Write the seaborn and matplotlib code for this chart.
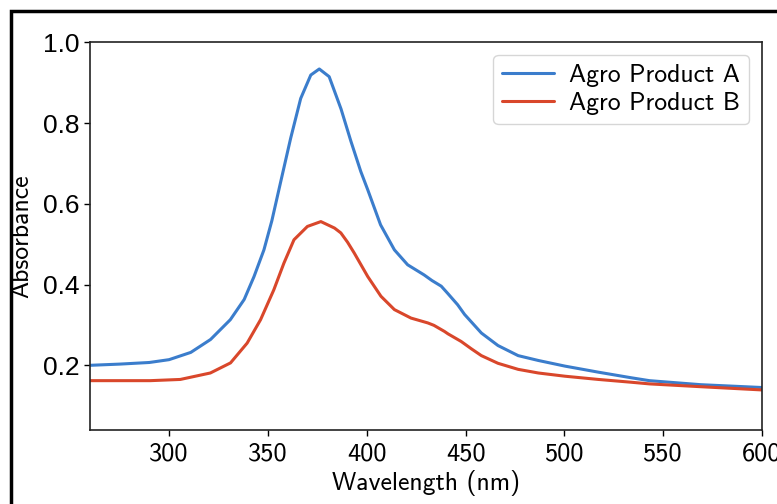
import numpy as np
import pandas as pd
import matplotlib
matplotlib.use("Agg")
import matplotlib.pyplot as plt
import seaborn as sns
from matplotlib.patches import Rectangle

sns.set_style("ticks")
plt.rcParams["font.family"] = ["cmss10", "DejaVu Sans"]
plt.rcParams["axes.unicode_minus"] = False
plt.rcParams["text.color"] = "black"
plt.rcParams["axes.labelcolor"] = "black"
plt.rcParams["xtick.color"] = "black"
plt.rcParams["ytick.color"] = "black"

# values
wl_a = [260, 275, 290, 300, 311, 321, 331, 338, 343, 348, 352, 356.5, 361.5,
        366.6, 371.7, 376, 381, 387, 392, 397, 400.5, 407, 414, 420.7, 429,
        433, 437.7, 441, 446, 449.5, 458, 466.4, 476.6, 486.8, 500.3, 517.2,
        534, 543, 569, 600]
abs_a = [0.200, 0.203, 0.207, 0.214, 0.232, 0.264, 0.313, 0.363, 0.420, 0.486,
         0.558, 0.655, 0.762, 0.861, 0.919, 0.934, 0.915, 0.835, 0.755, 0.680,
         0.635, 0.548, 0.486, 0.449, 0.424, 0.410, 0.396, 0.378, 0.350, 0.326,
         0.280, 0.249, 0.224, 0.212, 0.198, 0.183, 0.169, 0.162, 0.152, 0.145]

wl_b = [260, 280, 290.5, 305.7, 320.9, 331.1, 339.5, 346.3, 353, 358.1, 363.2,
        370, 376.8, 383.7, 386.9, 390.3, 393.7, 400.5, 407.2, 414, 422.4,
        430.9, 434, 439.3, 441.1, 447.8, 452.9, 458, 466.4, 476.6, 486.8,
        500.3, 517.2, 534, 543, 569, 600]
abs_b = [0.162, 0.162, 0.162, 0.165, 0.181, 0.206, 0.255, 0.313, 0.387, 0.453,
         0.511, 0.544, 0.556, 0.540, 0.528, 0.505, 0.478, 0.420, 0.371, 0.338,
         0.317, 0.305, 0.299, 0.284, 0.278, 0.259, 0.241, 0.224, 0.205, 0.190,
         0.181, 0.173, 0.165, 0.158, 0.154, 0.147, 0.139]

labels = ["Agro Product A", "Agro Product B"]
colors = ["#3b7dcc", "#d9472b"]

df = pd.concat([
    pd.DataFrame({"Wavelength": wl_a, "Absorbance": abs_a, "Sample": labels[0]}),
    pd.DataFrame({"Wavelength": wl_b, "Absorbance": abs_b, "Sample": labels[1]}),
])

fig = plt.figure(figsize=(7.77, 5.04), dpi=100)
ax = fig.add_axes([0.1158, 0.147, 0.865, 0.769])

sns.lineplot(data=df, x="Wavelength", y="Absorbance", hue="Sample",
             palette=colors, linewidth=2.2, ax=ax, sort=True)

ax.set_xlim(260, 600)
ax.set_ylim(0.04, 1.0)
ax.set_xticks([300, 350, 400, 450, 500, 550, 600])
ax.set_yticks([0.2, 0.4, 0.6, 0.8, 1.0])
ax.set_yticklabels(["0.2", "0.4", "0.6", "0.8", "1.0"], family="Liberation Sans")
ax.tick_params(axis="both", labelsize=19, length=4, width=1.0, direction="out")
ax.tick_params(axis="x", pad=5)
ax.set_xlabel("Wavelength (nm)", fontsize=18.5, labelpad=3)
ax.set_ylabel("Absorbance", fontsize=18.5, labelpad=7)
for sp in ax.spines.values():
    sp.set_linewidth(1.2)
    sp.set_color("#222222")

leg = ax.legend(loc="upper right", fontsize=18.5, frameon=True, fancybox=True,
                handlelength=2.0, handletextpad=0.6, borderpad=0.35,
                labelspacing=0.2, borderaxespad=0.5)
leg.set_title(None)
leg.get_frame().set_edgecolor("#cccccc")

# outer frame of the screenshot
fig.patches.append(Rectangle((11 / 777, -0.05), 1.2, 1 - 11 / 504 + 0.05,
                             transform=fig.transFigure, fill=False,
                             edgecolor="black", linewidth=2.5))

fig.savefig("out.png", dpi=100)
